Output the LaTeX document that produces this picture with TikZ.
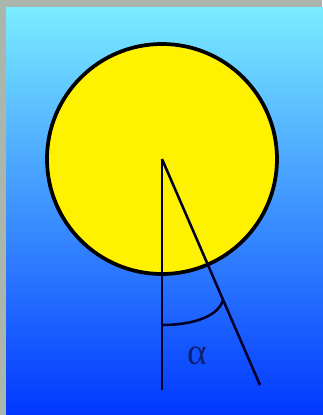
\documentclass[tikz,border=0pt]{standalone}
\usepackage{fontspec}
\setmainfont{Liberation Serif}
\usetikzlibrary{arrows.meta, positioning}
\definecolor{frameGrey}{RGB}{170,182,172}
\definecolor{skyTop}{RGB}{122,236,255}
\definecolor{skyMid}{RGB}{45,140,255}
\definecolor{skyBottom}{RGB}{0,55,255}
\definecolor{labelBlue}{RGB}{12,32,112}

\begin{document}
\begin{tikzpicture}[
    x=0.75pt, y=0.75pt,
    ray/.style={draw=black!85!blue, line width=1.9pt},
    sun/.style={circle, fill=yellow, draw=black, line width=2.8pt, minimum size=230*0.75pt, inner sep=0pt},
    angle label/.style={font=\fontsize{28}{28}\selectfont, text=labelBlue}
]
    % Background
    \useasboundingbox (0,0) rectangle (322,415);
    \fill[frameGrey] (0,0) rectangle (322,415);
    \shade[top color=skyTop, middle color=skyMid, bottom color=skyBottom] (6,-1) rectangle (323,407);

    % Nodes
    \coordinate (O) at (162,256);
    \node[sun] (S) at (O) {};
    \coordinate (V) at (162,25);
    \coordinate (T) at (260,30);
    \coordinate (A1) at (162,90);
    \coordinate (A2) at (223,115);
    \node[angle label] (alpha) at (197,59) {α};

    % Edges
    \draw[ray] (O) -- (V);
    \draw[ray] (O) -- (T);
    \draw[ray] (A1) .. controls (196,90) and (219,100) .. (A2);
\end{tikzpicture}
\end{document}
